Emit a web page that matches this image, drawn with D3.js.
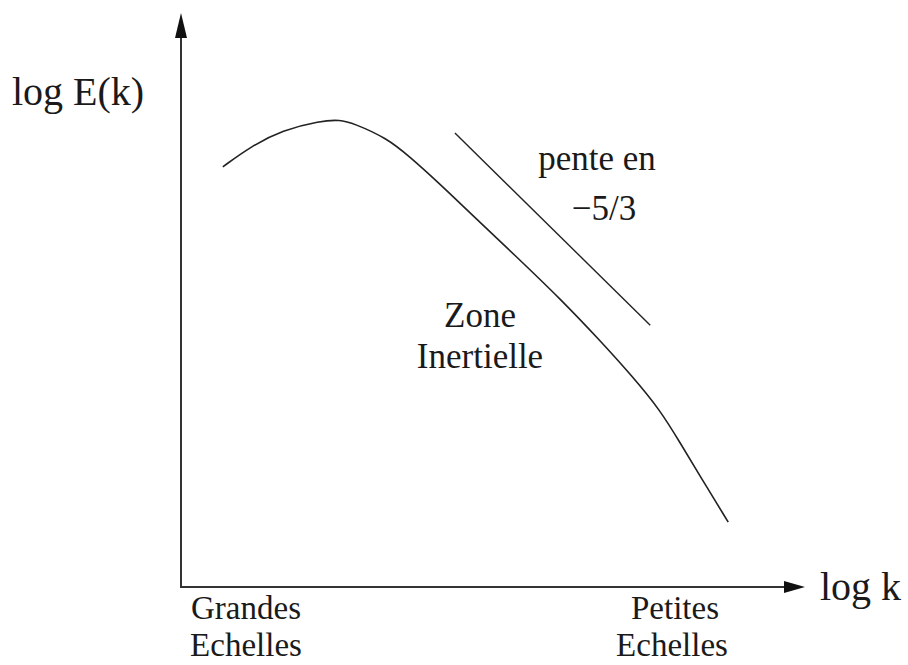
<!DOCTYPE html>
<html>
  <head>
    <meta charset="utf-8">
    <script src="https://d3js.org/d3.v7.min.js"></script>
    <style>
    body {
      margin: 0;
      background: #fff;
    }

    svg text {
      font-family: "Liberation Serif", "Times New Roman", serif;
      fill: #1a1a1a;
    }
  </style>
  </head>
  <body>
    <div id="chart"></div>
    <script>
    // energy spectrum (arbitrary units, 0..100)
    var logK = [6.7, 11.1, 16.3, 22.3, 25.5, 27.6, 33.0, 36.7, 41.0, 46.3, 53.8, 60.7, 67.1, 72.4, 76.8, 80.0, 83.2, 87.7];
    var logE = [73.2, 76.7, 79.6, 81.2, 81.4, 80.8, 78.2, 74.9, 70.7, 65.2, 57.5, 50.3, 43.0, 36.6, 30.8, 25.1, 19.3, 11.3];

    // the -5/3 reference slope
    var slopeK = [43.9, 75.2];
    var slopeE = [79.1, 45.6];

    var width = 908, height = 665;
    var x0 = 181, y0 = 587;

    var svg = d3.select("#chart").append("svg")
      .attr("width", width)
      .attr("height", height);

    var x = d3.scaleLinear().domain([0, 100]).range([x0, 805]);
    var y = d3.scaleLinear().domain([0, 100]).range([y0, 13]);

    // axes with arrow heads
    svg.append("line")
      .attr("x1", x(0)).attr("y1", y(0))
      .attr("x2", x(0)).attr("y2", y(100) + 20)
      .attr("stroke", "#333").attr("stroke-width", 2);
    svg.append("line")
      .attr("x1", x(0) - 1).attr("y1", y(0))
      .attr("x2", x(100) - 16).attr("y2", y(0))
      .attr("stroke", "#333").attr("stroke-width", 2);

    svg.append("path")
      .attr("d", "M" + x(0) + "," + y(100) + "L" + (x(0) - 6) + "," + (y(100) + 25) + "L" + (x(0) + 6) + "," + (y(100) + 25) + "Z")
      .attr("fill", "#111");
    svg.append("path")
      .attr("d", "M" + x(100) + "," + y(0) + "L" + (x(100) - 21) + "," + (y(0) - 6) + "L" + (x(100) - 21) + "," + (y(0) + 6) + "Z")
      .attr("fill", "#111");

    var line = d3.line()
      .x(function (d) { return x(d[0]); })
      .y(function (d) { return y(d[1]); })
      .curve(d3.curveBasis);

    svg.append("path")
      .datum(d3.zip(logK, logE))
      .attr("d", line)
      .attr("fill", "none")
      .attr("stroke", "#222")
      .attr("stroke-width", 1.6);

    svg.append("path")
      .datum(d3.zip(slopeK, slopeE))
      .attr("d", d3.line().x(function (d) { return x(d[0]); }).y(function (d) { return y(d[1]); }))
      .attr("fill", "none")
      .attr("stroke", "#222")
      .attr("stroke-width", 1.4);

    function label(tx, ty, txt, size, anchor) {
      svg.append("text")
        .attr("x", tx)
        .attr("y", ty)
        .attr("font-size", size)
        .attr("text-anchor", anchor || "middle")
        .text(txt);
    }

    label(12, 105, "log E(k)", 40, "start");
    label(820, 600, "log k", 40, "start");

    label(246, 619, "Grandes", 33);
    label(246, 656, "Echelles", 33);
    label(675, 619, "Petites", 33);
    label(672, 656, "Echelles", 33);

    label(597, 170, "pente en", 35);
    label(604, 220, "\u22125/3", 35);

    label(480, 327, "Zone", 35);
    label(480, 368, "Inertielle", 35);
    </script>
  </body>
</html>
